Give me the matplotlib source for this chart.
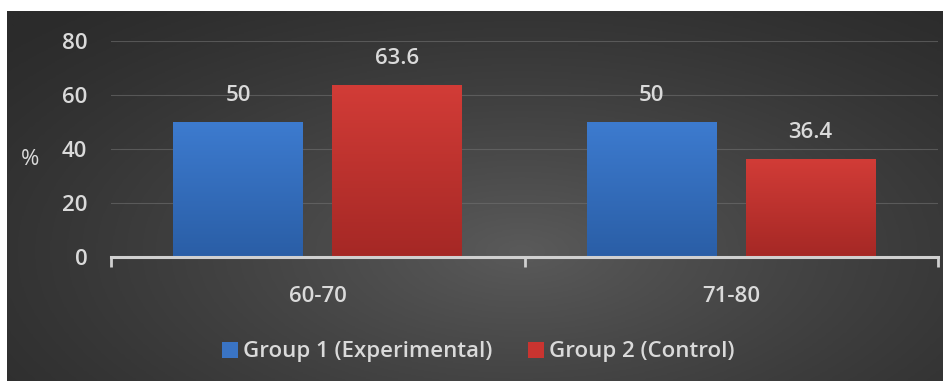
import numpy as np
import matplotlib
matplotlib.use("Agg")
import matplotlib.pyplot as plt
from matplotlib.colors import LinearSegmentedColormap

plt.rcParams['font.family'] = ['Open Sans', 'DejaVu Sans']
plt.rcParams['font.weight'] = 'semibold'

categories = ["60-70", "71-80"]
series_names = ["Group 1 (Experimental)", "Group 2 (Control)"]
group1 = [50, 50]
group2 = [63.6, 36.4]
y_ticks = [0, 20, 40, 60, 80]

W, H = 943, 381
fig = plt.figure(figsize=(W / 100, H / 100), dpi=100, facecolor="white")

# dark panel with a soft radial glow
bg = fig.add_axes([7 / W, 0, 1 - 7 / W, 1 - 11 / H])
bg.set_axis_off()
yy, xx = np.mgrid[0:1:300j, 0:1:800j]
r = np.sqrt(((xx - 0.55) / 0.75) ** 2 + ((yy - 0.35) / 0.9) ** 2)
shade = np.clip(1 - r, 0, 1) ** 1.3
bg_cmap = LinearSegmentedColormap.from_list("bg", ["#2b2b2b", "#5a5a5a"])
bg.imshow(shade, cmap=bg_cmap, aspect="auto", extent=[0, 1, 0, 1], origin="lower", vmin=0, vmax=1)
bg.set_xlim(0, 1)
bg.set_ylim(0, 1)

ax = fig.add_axes([111 / W, 1 - 257 / H, (938 - 111) / W, (257 - 41) / H])
ax.set_facecolor("none")
ax.set_zorder(2)

x = np.arange(len(categories))
width = 0.314
offset = 0.192
txt = "#dadada"
fs = 16

bars1 = ax.bar(x - offset, group1, width, color="#3a74c4", label=series_names[0], zorder=3)
bars2 = ax.bar(x + offset, group2, width, color="#c93430", label=series_names[1], zorder=3)

blue_cmap = LinearSegmentedColormap.from_list("b", ["#2a5ea6", "#3d7bcf"])
red_cmap = LinearSegmentedColormap.from_list("r", ["#a52825", "#d23c37"])
grad = np.linspace(0, 1, 256).reshape(-1, 1)
for bars, cmap in ((bars1, blue_cmap), (bars2, red_cmap)):
    for b in bars:
        x0, y0 = b.get_x(), b.get_y()
        im = ax.imshow(grad, cmap=cmap, aspect="auto", origin="lower",
                       extent=[x0, x0 + b.get_width(), y0, y0 + b.get_height()], zorder=3.5)
        im.set_clip_path(b)
        b.set_facecolor("none")

for bars, vals in ((bars1, group1), (bars2, group2)):
    for b, v in zip(bars, vals):
        ax.annotate(f"{v:g}", (b.get_x() + b.get_width() / 2, v), xytext=(0, 19),
                    textcoords="offset points", ha="center", va="center",
                    color=txt, fontsize=fs)

ax.set_xlim(-0.5, len(categories) - 0.5)
ax.set_ylim(0, 80)
ax.set_yticks(y_ticks)
ax.set_yticklabels([str(t) for t in y_ticks])
ax.yaxis.grid(True, color="#707070", linewidth=0.8, alpha=0.6, zorder=0)
ax.set_axisbelow(True)
ax.tick_params(axis="y", length=0, pad=17, labelcolor=txt, labelsize=fs)

ax.set_xticks(x)
ax.set_xticklabels(categories)
ax.set_xticks(np.arange(-0.5, len(categories)), minor=True)
ax.tick_params(axis="x", which="major", length=0, pad=21, labelcolor=txt, labelsize=fs)
ax.tick_params(axis="x", which="minor", length=7, width=2, color="#d0d0d0", direction="out")

for s in ("top", "right", "left"):
    ax.spines[s].set_visible(False)
ax.spines["bottom"].set_color("#d0d0d0")
ax.spines["bottom"].set_linewidth(2.2)
ax.spines["bottom"].set_zorder(4)

ax.set_ylabel("%", rotation=0, color=txt, fontsize=fs, va="center", ha="center")
ax.yaxis.set_label_coords(-0.098, 0.45)

leg = fig.legend(handles=[bars1, bars2], labels=series_names, loc="center",
                 bbox_to_anchor=(478 / W, 1 - 352 / H), ncol=2, frameon=False,
                 fontsize=fs, handlelength=0.75, handleheight=0.75, handletextpad=0.2,
                 columnspacing=1.6)
for t in leg.get_texts():
    t.set_color(txt)
for h, c in zip(leg.legend_handles, ("#3a74c4", "#c93430")):
    h.set_facecolor(c)

fig.savefig("out.png", dpi=100, facecolor="white")
